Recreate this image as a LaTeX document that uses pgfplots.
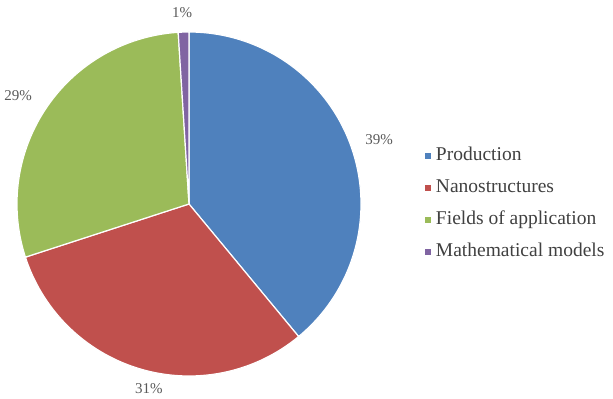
\documentclass[border=0pt]{standalone}
\usepackage{pgfplots}
\pgfplotsset{compat=1.18}
\usepackage{fontspec}
\setmainfont{Liberation Serif}
\definecolor{pieblue}{HTML}{4F81BD}
\definecolor{piered}{HTML}{C0504D}
\definecolor{piegreen}{HTML}{9BBB59}
\definecolor{piepurple}{HTML}{8064A2}
\definecolor{labgray}{HTML}{595959}
\definecolor{leggray}{HTML}{404040}
% shares (percent)
\def\vA{39}\def\vB{31}\def\vC{29}\def\vD{1}
\pgfmathsetmacro{\aA}{90}
\pgfmathsetmacro{\aB}{90-3.6*\vA}
\pgfmathsetmacro{\aC}{90-3.6*(\vA+\vB)}
\pgfmathsetmacro{\aD}{90-3.6*(\vA+\vB+\vC)}
\pgfmathsetmacro{\aE}{90-3.6*(\vA+\vB+\vC+\vD)}
\begin{document}
\begin{tikzpicture}
\begin{axis}[
  x=172pt, y=172pt,
  xmin=-1.0988, xmax=2.4651, ymin=-1.1337, ymax=1.186,
  hide axis, clip=false, scale only axis,
  legend cell align=left,
  legend image code/.code={\fill[#1, draw=none] (0pt,-3pt) rectangle (6pt,3pt);},
  legend style={draw=none, fill=none, inner sep=0pt, outer sep=0pt,
    at={(axis cs:1.372,0.0)}, anchor=west,
    font=\fontsize{19.5}{20}\selectfont, text=leggray,
    row sep=10pt, column sep=3pt,
    nodes={text height=14pt, text depth=4pt, inner sep=2pt}},
]
\path (axis cs:-1.0988,-1.1337) rectangle (axis cs:2.4651,1.186);
\addplot[fill=pieblue, draw=white, line width=1.2pt, domain=\aA:\aB, samples=90]
  ({cos(x)},{sin(x)}) -- (axis cs:0,0) -- cycle;
\addlegendentry{Production}
\addplot[fill=piered, draw=white, line width=1.2pt, domain=\aB:\aC, samples=90]
  ({cos(x)},{sin(x)}) -- (axis cs:0,0) -- cycle;
\addlegendentry{Nanostructures}
\addplot[fill=piegreen, draw=white, line width=1.2pt, domain=\aC:\aD, samples=90]
  ({cos(x)},{sin(x)}) -- (axis cs:0,0) -- cycle;
\addlegendentry{Fields of application}
\addplot[fill=piepurple, draw=white, line width=1.2pt, domain=\aD:\aE, samples=5]
  ({cos(x)},{sin(x)}) -- (axis cs:0,0) -- cycle;
\addlegendentry{Mathematical models}
\node[text=labgray, font=\fontsize{15}{15}\selectfont] at (axis cs:1.1047,0.372) {39\%};
\node[text=labgray, font=\fontsize{15}{15}\selectfont] at (axis cs:-0.2326,-1.0756) {31\%};
\node[text=labgray, font=\fontsize{15}{15}\selectfont] at (axis cs:-0.994,0.628) {29\%};
\node[text=labgray, font=\fontsize{15}{15}\selectfont] at (axis cs:-0.0407,1.1105) {1\%};
\end{axis}
\end{tikzpicture}
\end{document}
